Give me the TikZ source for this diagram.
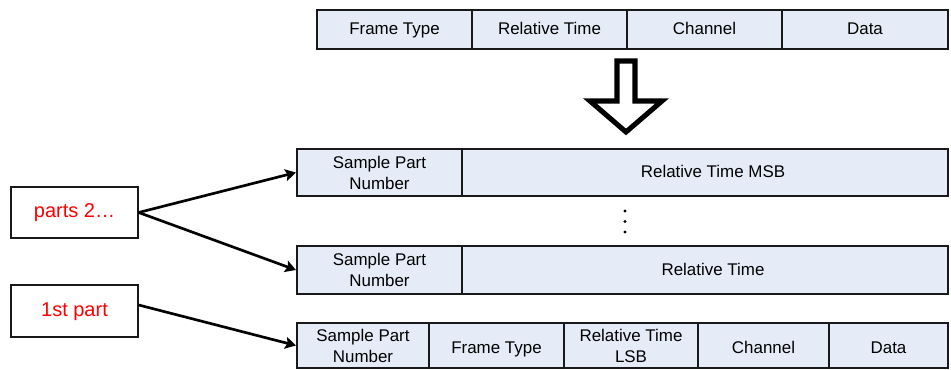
\documentclass[tikz,border=0pt]{standalone}
\usepackage{fontspec}
\setmainfont{Liberation Sans}
\usetikzlibrary{arrows.meta}
\definecolor{cellblue}{RGB}{230,236,247}
\begin{document}
\begin{tikzpicture}[x=0.75pt,y=-0.75pt,
  cell/.style={draw=black!90, line width=1.6pt, fill=cellblue, inner sep=0pt, align=center,
    font=\fontsize{12.7}{15.7}\selectfont},
  oneline/.style={text height=10.6pt, text depth=2.6pt},
  lowline/.style={text height=14.5pt, text depth=2.6pt},
  lbl/.style={draw=black!90, line width=1pt, fill=white, inner sep=0pt, text=red,
    minimum width=127*0.75pt, text height=11pt, text depth=3pt, font=\fontsize{15}{18}\selectfont},
  conn/.style={line width=2pt, -{Stealth[length=8pt,width=9pt,inset=1.5pt]}},
  blockarrow/.style={draw=black, line width=3.8pt, fill=white, line join=miter},
  dotmark/.style={fill=black}]
\useasboundingbox (0,0) rectangle (951,370);
% top frame
\begin{scope}[every node/.append style={minimum height=39*0.75pt}]
\node[cell, oneline, minimum width=155*0.75pt] (t1) at (394.5,29.5) {Frame Type};
\node[cell, oneline, minimum width=155*0.75pt] (t2) at (549.5,29.5) {Relative Time};
\node[cell, oneline, minimum width=155*0.75pt] (t3) at (704.5,29.5) {Channel};
\node[cell, oneline, minimum width=166*0.75pt] (t4) at (865,29.5) {Data};
\end{scope}
% block arrow
\draw[blockarrow] (617,61) -- (635,61) -- (635,101) -- (662,101) -- (626,132) -- (590,101) -- (617,101) -- cycle;
% row MSB
\node[cell, minimum width=165*0.75pt, minimum height=47*0.75pt] (s1) at (379.5,172.5) {Sample Part\\Number};
\node[cell, oneline, minimum width=486*0.75pt, minimum height=47*0.75pt] (r1) at (705,172.5) {\hspace*{12pt}Relative Time MSB};
% dots
\fill[dotmark] (625,211) circle (1.6);
\fill[dotmark] (625,221.5) circle (1.6);
\fill[dotmark] (625,232) circle (1.6);
% row RT
\node[cell, minimum width=165*0.75pt, minimum height=48*0.75pt] (s2) at (379.5,270) {Sample Part\\Number};
\node[cell, oneline, minimum width=486*0.75pt, minimum height=48*0.75pt] (r2) at (705,270) {\hspace*{12pt}Relative Time};
% bottom row
\begin{scope}[every node/.append style={minimum height=45*0.75pt}]
\node[cell, minimum width=132*0.75pt] (b1) at (363,345.5) {Sample Part\\Number};
\node[cell, lowline, minimum width=135*0.75pt] (b2) at (496.5,345.5) {Frame Type};
\node[cell, minimum width=134*0.75pt] (b3) at (631,345.5) {Relative Time\\LSB};
\node[cell, lowline, minimum width=131*0.75pt] (b4) at (763.5,345.5) {Channel};
\node[cell, lowline, minimum width=119*0.75pt] (b5) at (888.5,345.5) {Data};
\end{scope}
% labels
\node[lbl, minimum height=51*0.75pt] (p2) at (74.5,212.5) {parts 2\dots};
\node[lbl, minimum height=52*0.75pt] (p1) at (74.5,311) {1st part};
% connectors
\draw[conn] (p2.east) -- (s1.west);
\draw[conn] (p2.east) -- (s2.west);
\draw[conn] ([yshift=4.5pt]p1.east) -- (b1.west);
\end{tikzpicture}
\end{document}
